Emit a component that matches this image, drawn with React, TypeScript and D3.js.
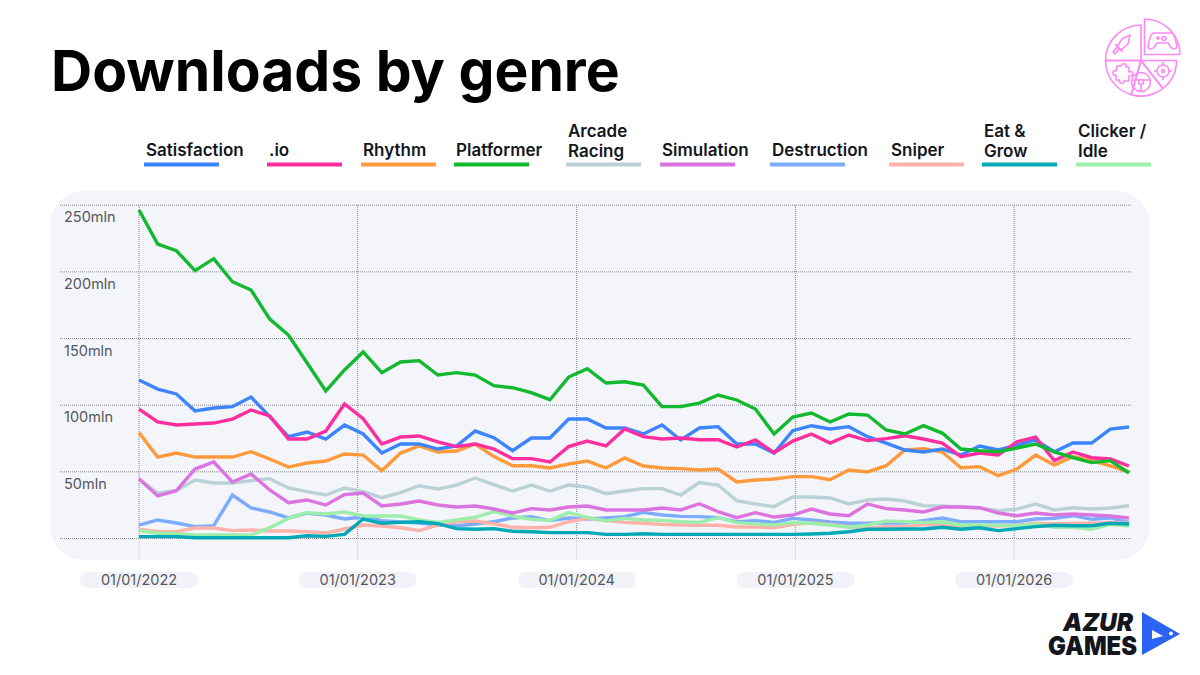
import React from "react";
import * as d3 from "d3";

const satisfaction = [118.9,112.1,108.4,95.6,97.9,98.9,106.1,91.4,76.4,79.9,74.6,85.1,78.4,64.1,70.9,70.9,67.1,69.4,80.6,75.6,65.9,75.4,75.4,89.6,89.6,82.9,82.9,78.4,85.1,73.9,82.9,83.9,70.9,70.9,64.1,80.9,84.6,82.1,83.9,76.4,71.6,66.4,64.9,67.1,62.6,69.4,66.4,70.1,73.9,65.1,71.6,71.6,82.1,83.6];
const io = [97.1,87.4,85.1,85.9,86.6,89.6,96.4,91.9,74.6,74.6,80.6,100.9,89.9,70.9,76.1,76.9,72.4,68.9,70.9,67.1,59.9,59.9,57.4,68.9,73.1,69.4,82.1,76.4,74.6,75.4,74.1,74.1,68.6,73.9,64.4,73.1,78.4,71.6,77.6,73.4,74.9,77.1,74.6,71.6,61.4,64.1,62.6,72.6,76.1,58.4,64.9,60.6,59.6,54.4];
const rhythm = [79.4,61.1,64.1,61.1,61.1,61.1,65.1,59.6,53.6,56.6,58.1,63.4,62.6,50.9,64.1,69.4,64.9,65.6,70.9,61.4,54.6,54.6,52.9,55.9,58.1,52.9,60.4,54.4,52.9,52.4,51.4,52.1,42.4,43.9,44.6,46.4,46.4,44.1,51.4,49.9,54.6,66.4,67.4,64.9,53.1,53.9,47.1,52.1,62.6,55.1,61.4,58.4,54.4,49.9];
const platformer = [246.4,220.9,215.9,200.9,209.9,192.6,186.4,164.6,152.6,131.6,110.6,126.4,139.9,124.4,132.4,133.4,122.6,124.4,122.6,114.6,113.1,109.4,104.1,121.1,127.4,116.6,117.6,115.1,98.9,98.9,101.6,107.6,103.9,97.1,78.4,91.1,94.1,87.4,93.4,92.6,81.4,78.4,84.6,79.1,67.1,65.9,65.1,67.9,70.9,64.9,60.6,56.9,58.4,49.1];
const arcadeRacing = [44.6,34.1,35.9,43.9,41.6,41.6,43.4,44.9,37.9,35.1,32.6,37.9,35.1,30.6,34.4,39.6,37.1,40.1,45.4,40.4,35.6,40.1,35.6,40.1,38.6,33.6,35.6,37.4,37.4,32.6,41.9,40.1,28.4,25.9,23.9,31.1,31.1,30.4,25.9,28.9,29.6,28.1,24.6,24.4,23.6,22.9,20.9,22.1,25.9,21.4,23.1,22.1,22.9,24.6];
const simulation = [44.9,31.9,35.9,52.1,57.4,42.4,48.4,36.4,26.9,28.9,25.1,32.9,34.1,24.4,25.9,28.1,25.1,23.6,24.4,22.1,19.1,22.4,21.4,23.6,24.4,21.4,21.4,21.4,22.9,21.4,26.1,20.1,15.6,19.4,16.1,17.6,22.1,18.4,17.1,25.9,22.4,21.4,19.9,23.6,23.6,23.1,19.1,17.1,19.1,17.6,18.4,17.6,16.9,15.4];
const destruction = [10.1,13.9,11.6,8.9,9.6,32.6,22.9,19.9,15.4,19.1,17.6,14.6,16.1,13.4,12.4,11.6,10.1,9.6,10.9,12.6,15.4,16.4,13.4,15.4,14.6,15.4,16.4,19.6,17.6,16.6,16.4,15.6,12.6,13.4,12.1,15.1,13.9,12.4,11.4,11.4,11.6,11.6,13.4,15.4,12.6,12.6,12.6,12.6,14.6,15.1,17.1,14.4,15.4,12.1];
const sniper = [6.9,5.1,5.1,7.9,7.9,5.9,6.4,5.6,5.6,5.1,4.1,7.1,10.1,9.4,8.1,5.9,10.1,12.6,13.1,10.9,8.4,8.1,8.4,12.6,15.1,13.4,12.1,11.4,10.6,10.1,9.9,9.9,8.6,8.6,8.1,10.6,11.6,10.6,8.9,7.9,8.9,8.9,10.4,10.1,8.9,9.4,9.4,9.9,11.4,10.9,11.4,11.4,12.1,11.4];
const eatGrow = [1.4,1.4,1.4,0.6,0.6,0.6,0.6,0.6,0.6,2.1,1.6,3.1,14.6,11.4,12.1,12.6,11.1,7.4,6.9,7.4,5.4,5.1,4.4,4.4,4.4,3.1,3.1,3.6,3.1,3.1,3.1,3.1,3.1,3.1,3.1,3.1,3.4,3.9,5.1,6.9,6.9,7.1,7.1,8.4,6.9,8.1,5.9,7.4,8.9,9.9,9.6,9.6,11.4,10.9];
const clickerIdle = [5.9,3.9,3.6,2.6,2.6,2.6,2.6,8.1,15.1,19.4,18.4,19.9,16.9,16.9,16.9,13.9,12.1,13.9,15.9,20.1,16.9,14.4,13.4,19.4,15.9,13.1,15.1,13.9,13.6,12.6,12.1,15.6,11.9,10.9,10.1,11.9,11.4,10.1,8.4,10.1,13.1,12.6,12.1,12.6,10.1,10.1,9.9,9.6,10.9,8.4,8.4,6.9,10.6,9.4];

const seriesNames = [["Satisfaction"],[".io"],["Rhythm"],["Platformer"],["Arcade","Racing"],["Simulation"],["Destruction"],["Sniper"],["Eat &","Grow"],["Clicker /","Idle"]];
const seriesValues = [satisfaction, io, rhythm, platformer, arcadeRacing, simulation, destruction, sniper, eatGrow, clickerIdle];
const seriesColors = ["#3d84ff","#ff2e9f","#ff9a3c","#12b92f","#bad2d6","#dc74e0","#7dabff","#ffb2aa","#00a9b5","#9ceeaa"];
const drawOrder = [4,6,7,9,5,2,0,1,3,8];
const legendStarts = [144,267,361,454,566,660,770,889,982,1076];
const yTicks = [0,50,100,150,200,250];
const xTickDates = ["01/01/2022","01/01/2023","01/01/2024","01/01/2025","01/01/2026"];
const xTickIndex = [0,11.71,23.43,35.14,46.85];

const x = d3.scaleLinear().domain([0,53]).range([139,1129]);
const y = d3.scaleLinear().domain([0,250]).range([538.5,205.2]);
const line = d3.line<number>().x((_, i) => x(i)).y(d => y(d));
const FONT = "Inter, 'Noto Sans', sans-serif";
const PINK = "#ff88f3";

function Icon() {
  const arc = d3.arc<any>();
  const r = (deg: number) => (deg * Math.PI) / 180;
  const slices = [[270,360],[196,270],[142,196],[90,142]];
  return (
    <g fill="none" stroke={PINK} strokeWidth={1.6} strokeLinejoin="round">
      <g transform="translate(1141,60.5)">
        {slices.map(([a,b],i) => (
          <path key={i} d={arc({innerRadius:0,outerRadius:35.5,startAngle:r(a),endAngle:r(b)}) as string} />
        ))}
      </g>
      <g transform="translate(1144.5,54.5)">
        <path d={arc({innerRadius:0,outerRadius:35.5,startAngle:0,endAngle:r(90)}) as string} />
      </g>
      {/* gamepad */}
      <path d="M1155 33 h15 q4 0 5 5 l2 8 q0 3 -3 3 q-2 0 -4 -3 l-2 -3 h-11 l-2 3 q-2 3 -4 3 q-3 0 -3 -3 l2 -8 q1 -5 5 -5 z" />
      <path d="M1158 36 v4 M1156 38 h4" />
      <circle cx={1164} cy={38.5} r={2} />
      {/* sword */}
      <path d="M1130 35 l-2 9 l-7 6 l-4 -3 l5 -8 z" />
      <path d="M1115 44 l8 8 M1119 49 l-4 5 l-2 -2 l4 -5" />
      {/* puzzle */}
      <path d="M1117 66 h4 q1 -3 4 -2 q2 1 1 3 h3 v5 q3 -1 4 1 q0 3 -3 3 l-1 0 v5 h-5 q0 3 -3 2 q-3 -1 -1 -3 h-4 v-5 q-3 1 -3 -2 q0 -3 3 -2 z" />
      {/* wheel */}
      <circle cx={1141} cy={82} r={9.5} />
      <circle cx={1141} cy={82} r={2.5} />
      <path d="M1132 80 h7 M1143 80 h7 M1141 85 v6" />
      {/* target */}
      <circle cx={1163} cy={71} r={6} />
      <circle cx={1163} cy={71} r={1.4} />
      <path d="M1163 62 v4 M1163 76 v4 M1154 71 h4 M1168 71 h4" />
    </g>
  );
}

function Logo() {
  return (
    <g>
      <text x={1063} y={630.5} fontFamily={FONT} fontWeight={900} fontStyle="italic" fontSize={25} fill="#14161e" textLength={70} lengthAdjust="spacingAndGlyphs">AZUR</text>
      <text x={1048} y={655} fontFamily={FONT} fontWeight={900} fontSize={26} fill="#14161e" textLength={89} lengthAdjust="spacingAndGlyphs">GAMES</text>
      <path d="M1142 612 L1180 634 L1142 655 Z" fill="#2a63f6" />
      <path d="M1152 639 L1152 630 L1163 636 Z" fill="#fff" />
      <circle cx={1171} cy={633.5} r={2} fill="#fff" />
    </g>
  );
}

export default function App() {
  return (
    <svg width={1200} height={675} viewBox="0 0 1200 675" style={{position:"absolute",left:0,top:0,display:"block",background:"#fff"}}>
      <text x={51} y={91} fontFamily={FONT} fontWeight={700} fontSize={57} fill="#000">Downloads by genre</text>
      <Icon />

      {seriesNames.map((lines,i) => (
        <g key={i}>
          {lines.map((t,j) => (
            <text key={j} x={legendStarts[i]+2} y={lines.length===2 ? 137+j*19.5 : 156} fontFamily={FONT} fontWeight={600} fontSize={17} fill="#14161e">{t}</text>
          ))}
          <rect x={legendStarts[i]} y={162.5} width={75} height={4} fill={seriesColors[i]} />
        </g>
      ))}

      <rect x={50} y={191} width={1100} height={369} rx={34} fill="#f3f5fa" />

      {yTicks.map(t => (
        <g key={t}>
          <line x1={60} x2={1132} y1={y(t)} y2={y(t)} stroke="#6b6d73" strokeWidth={0.8} strokeDasharray="1 1" />
          {t>0 && <text x={64} y={y(t)+17} fontFamily={FONT} fontSize={14.5} fill="#55575c">{t}mln</text>}
        </g>
      ))}
      {xTickDates.map((d,i) => (
        <g key={d}>
          <line x1={x(xTickIndex[i])} x2={x(xTickIndex[i])} y1={205} y2={538} stroke="#6b6d73" strokeWidth={0.8} strokeDasharray="1 1" />
          <line x1={x(xTickIndex[i])} x2={x(xTickIndex[i])} y1={538} y2={560} stroke="#d5d7dc" strokeWidth={0.8} />
          <rect x={x(xTickIndex[i])-59} y={572} width={118} height={16} rx={8} fill="#f1f3f8" />
          <text x={x(xTickIndex[i])} y={585} textAnchor="middle" fontFamily={FONT} fontSize={14.5} fill="#55575c">{d}</text>
        </g>
      ))}

      {drawOrder.map(i => (
        <path key={i} d={line(seriesValues[i]) as string} fill="none" stroke={seriesColors[i]} strokeWidth={3.4} strokeLinejoin="miter" />
      ))}
      <Logo />
    </svg>
  );
}
